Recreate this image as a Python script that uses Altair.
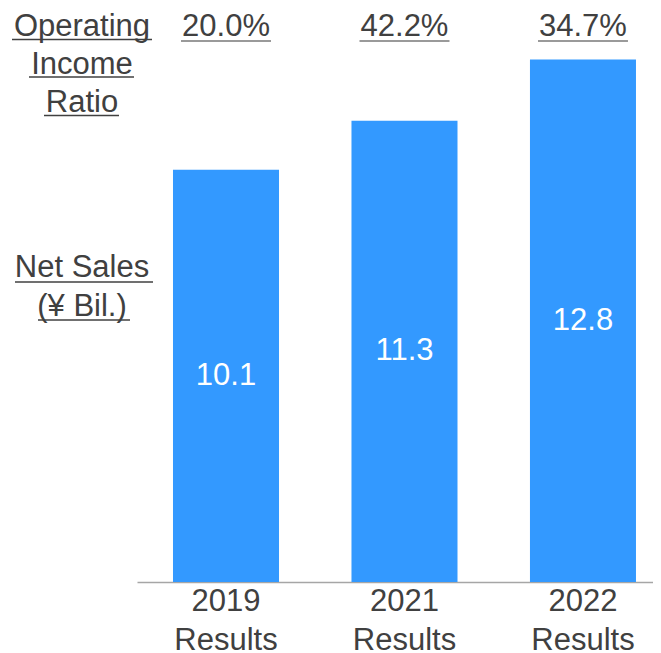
import altair as alt
import pandas as pd

# ---- data ----
periods = ["2019 Results", "2021 Results", "2022 Results"]
net_sales = [10.1, 11.3, 12.8]
op_income_ratio = [20.0, 42.2, 34.7]

ratio_title = ["Operating", "Income", "Ratio"]
sales_title = ["Net Sales", "(¥ Bil.)"]

df = pd.DataFrame({"period": periods, "sales": net_sales, "ratio": op_income_ratio})

FONT = "Liberation Sans"
GREY = "#404040"
BLUE = "#3399FF"
FS = 31

x_enc = alt.X(
    "period:N",
    sort=periods,
    scale=alt.Scale(paddingInner=0.406, paddingOuter=0.1485, align=0.679),
    axis=alt.Axis(
        title=None,
        labelExpr="split(datum.label, ' ')",
        labelFontSize=FS,
        labelFont=FONT,
        labelColor=GREY,
        labelLineHeight=39,
        labelPadding=4,
        labelAngle=0,
        labelOverlap=False,
        labelFlush=False,
        ticks=False,
        domainColor="#a6a6a6",
        domainWidth=1.5,
    ),
)
y_scale = alt.Scale(domain=[0, 14.06], nice=False, zero=True)

base = alt.Chart(df)

bars = base.mark_bar(color=BLUE).encode(
    x=x_enc, y=alt.Y("sales:Q", scale=y_scale, axis=None)
)

values = base.transform_calculate(mid="datum.sales / 2").mark_text(
    color="white", fontSize=FS, font=FONT, baseline="middle"
).encode(
    x=alt.X("period:N", sort=periods),
    y=alt.Y("mid:Q", scale=y_scale, axis=None),
    text=alt.Text("sales:Q", format=".1f"),
)

ratios = base.transform_calculate(
    lab="format(datum.ratio, '.1f') + '%'"
).mark_text(color=GREY, fontSize=FS, font=FONT, baseline="alphabetic").encode(
    x=alt.X("period:N", sort=periods),
    y=alt.value(28),
    text="lab:N",
)

ratio_lines = base.mark_tick(
    orient="horizontal", size=90, thickness=1.5, color=GREY
).encode(x=alt.X("period:N", sort=periods), y=alt.value(33))

# left-hand titles (text line, baseline y, underline x1, x2, y)
left_layout = [
    (ratio_title[0], 28, -125, 15, 31.5),
    (ratio_title[1], 66, -108, -3, 69),
    (ratio_title[2], 104, -93, -18, 107.5),
    (sales_title[0], 269, -122, 16, 274),
    (sales_title[1], 308, -99, -7, 312),
]

left_layers = []
for txt, yb, x1, x2, yu in left_layout:
    d = pd.DataFrame({"t": [txt]})
    left_layers.append(
        alt.Chart(d).mark_text(
            color=GREY, fontSize=FS, font=FONT, baseline="alphabetic", align="center"
        ).encode(x=alt.value(-55), y=alt.value(yb), text="t:N")
    )
    left_layers.append(
        alt.Chart(d).mark_rule(color=GREY, strokeWidth=1.5).encode(
            x=alt.value(x1), x2=alt.value(x2), y=alt.value(yu)
        )
    )

chart = alt.layer(bars, values, ratios, ratio_lines, *left_layers).properties(
    width=516,
    height=574,
    autosize=alt.AutoSizeParams(type="none"),
    padding={"left": 129, "top": 0, "right": 0, "bottom": 80},
).configure_view(stroke=None)

chart.save("out.html", embed_options={"renderer": "svg", "actions": False})
